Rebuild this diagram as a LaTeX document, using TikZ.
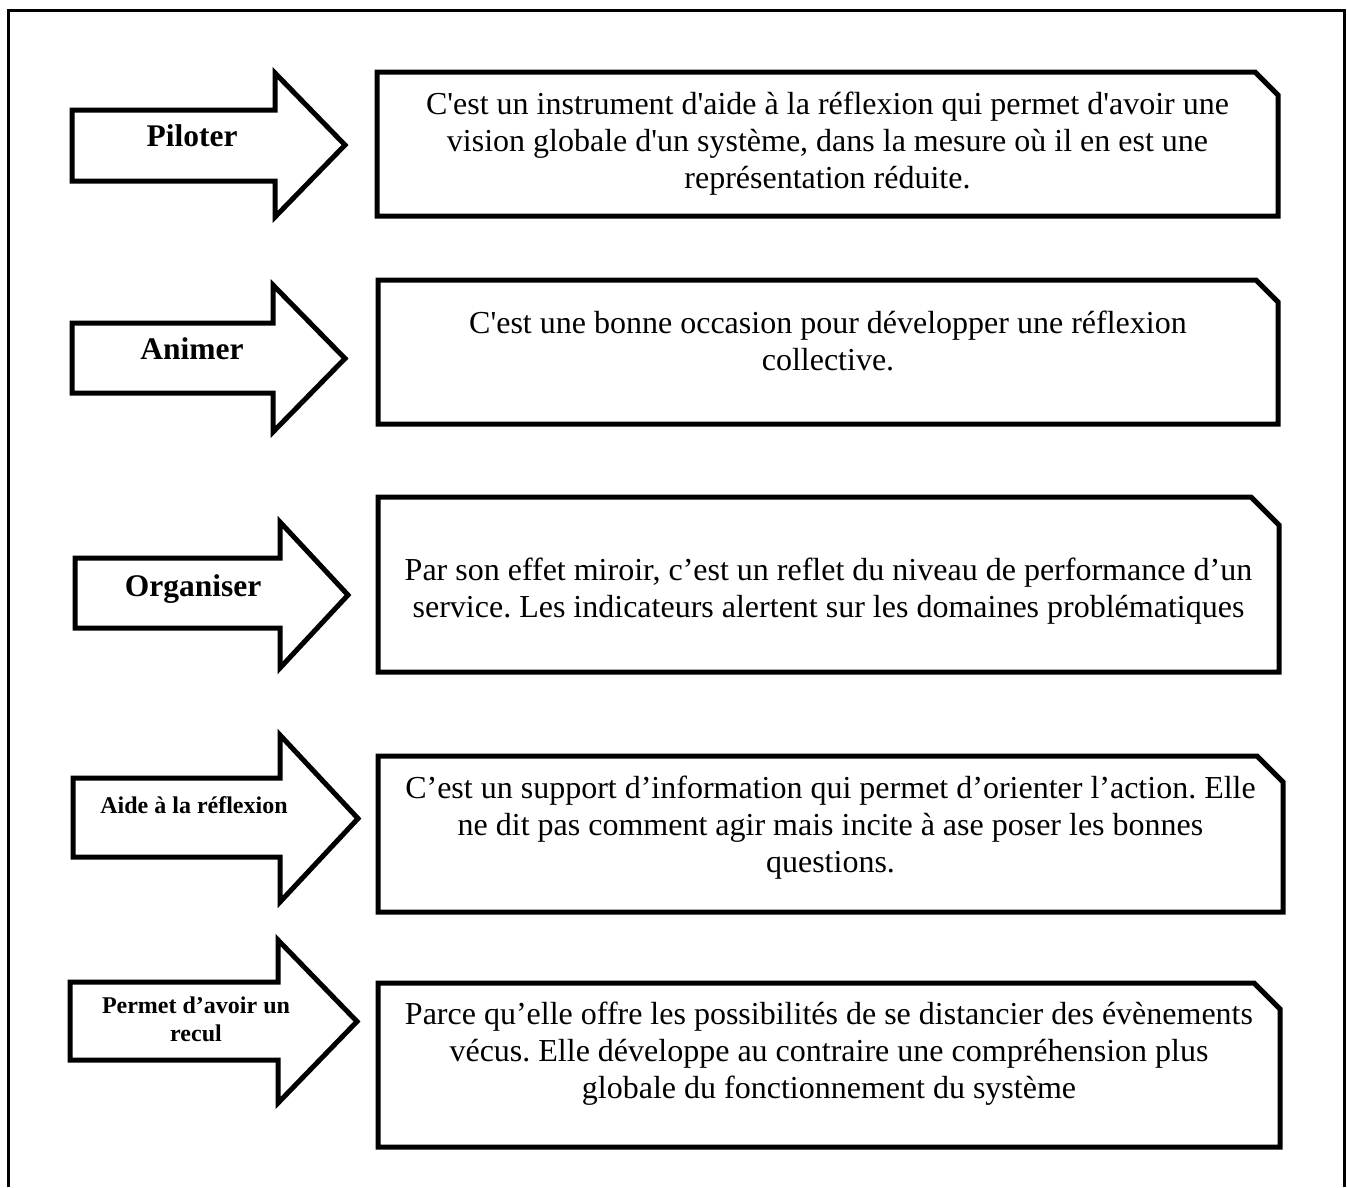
\documentclass[tikz,border=0pt]{standalone}
\usepackage{fontspec}
\setmainfont{Liberation Serif}
\frenchspacing
\begin{document}
\begin{tikzpicture}[x=1pt,y=-1pt,
  arrowshape/.style={draw=black,line width=5pt,fill=white,line join=miter},
  boxshape/.style={draw=black,line width=5pt,fill=white,line join=miter},
  framestyle/.style={draw=black,line width=3pt},
  bigtag/.style={inner sep=0pt,anchor=base,font=\fontsize{31.5}{36}\selectfont\bfseries},
  smalltag/.style={inner sep=0pt,anchor=base,font=\fontsize{24}{28}\selectfont\bfseries},
  boxtext/.style={inner sep=0pt,anchor=base,font=\fontsize{32}{37}\selectfont}]
\newcommand\myarrow[7]{\draw[arrowshape] (#1,#4) -- (#2,#4) -- (#2,#6) -- (#3,{(#6+#7)/2}) -- (#2,#7) -- (#2,#5) -- (#1,#5) -- cycle;}
\newcommand\mybox[5]{\draw[boxshape] (#1,#2) -- ({#3-#5},#2) -- (#3,{#2+#5}) -- (#3,#4) -- (#1,#4) -- cycle;}
\useasboundingbox (0,0) rectangle (1347,1187);
\fill[white] (0,0) rectangle (1347,1187);
% frame
\draw[framestyle] (8,1187) -- (8,10) -- (1344,10) -- (1344,1187);
% arrows
\myarrow{72}{275}{345}{110}{181}{73}{217}
\myarrow{72}{273}{345}{323}{393}{285}{432}
\myarrow{75}{280}{348}{558}{628}{522}{668}
\myarrow{73}{280}{358}{778}{857}{735}{902}
\myarrow{70}{278}{357}{982}{1060}{940}{1103}
% boxes
\mybox{377}{72}{1278}{216}{23}
\mybox{378}{280}{1278}{424}{22}
\mybox{378}{497}{1279}{672}{28}
\mybox{378}{756}{1283}{912}{26}
\mybox{378}{983}{1280}{1147}{26}
% labels
\node[bigtag] (l1) at (192,146) {Piloter};
\node[bigtag] (l2) at (192,359) {Animer};
\node[bigtag] (l3) at (193,596) {Organiser};
\node[smalltag] (l4) at (194,813) {Aide à la réflexion};
\node[smalltag] (l5) at (196,1013) {\begin{tabular}[t]{@{}c@{}}Permet d’avoir un\\recul\end{tabular}};
% box texts
\node[boxtext] (t1) at (827.5,114) {\begin{tabular}[t]{@{}c@{}}C\textquotesingle est un instrument d\textquotesingle aide à la réflexion qui permet d\textquotesingle avoir une\\vision globale d\textquotesingle un système, dans la mesure où il en est une\\représentation réduite.\end{tabular}};
\node[boxtext] (t2) at (828,333) {\begin{tabular}[t]{@{}c@{}}C\textquotesingle est une bonne occasion pour développer une réflexion\\collective.\end{tabular}};
\node[boxtext] (t3) at (828.5,580) {\begin{tabular}[t]{@{}c@{}}Par son effet miroir, c’est un reflet du niveau de performance d’un\\service. Les indicateurs alertent sur les domaines problématiques\end{tabular}};
\node[boxtext] (t4) at (830.5,798) {\begin{tabular}[t]{@{}c@{}}C’est un support d’information qui permet d’orienter l’action. Elle\\ne dit pas comment agir mais incite à ase poser les bonnes\\questions.\end{tabular}};
\node[boxtext] (t5) at (829,1024) {\begin{tabular}[t]{@{}c@{}}Parce qu’elle offre les possibilités de se distancier des évènements\\vécus. Elle développe au contraire une compréhension plus\\globale du fonctionnement du système\end{tabular}};
\end{tikzpicture}
\end{document}
